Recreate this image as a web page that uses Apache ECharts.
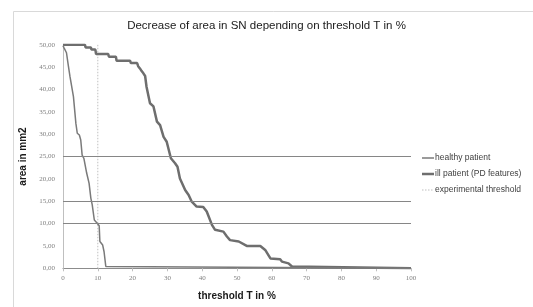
<!DOCTYPE html>
<html><head><meta charset="utf-8">
<script src="https://cdn.jsdelivr.net/npm/echarts@6/dist/echarts.min.js"></script>
<style>html,body{margin:0;padding:0;background:#fff}#c{width:533px;height:307px}</style>
</head><body><div id="c"></div>
<script>
var titleText = 'Decrease of area in SN depending on threshold T in %';
var xName = 'threshold T in %';
var yName = 'area in mm2';
var seriesNames = ['healthy patient', 'ill patient (PD features)', 'experimental threshold'];

var healthyT = [0, 0.3, 1.0, 1.5, 2.0, 3.0, 3.7, 4.1, 4.7, 5.1, 5.5, 6.0, 6.3, 6.8, 7.5, 8.0, 8.4, 9.0, 9.7, 10.4, 10.6, 11.4, 11.8, 12.3, 12.5, 100];
var healthyV = [49.8, 49.3, 48.2, 45.5, 42.9, 38.4, 32.4, 30.2, 29.8, 28.7, 25.3, 24.6, 24.2, 21.3, 19.0, 15.7, 14.2, 10.8, 10.2, 9.5, 6.0, 5.2, 3.7, 0.4, 0, 0];

var illT = [0, 6.3, 6.5, 8.0, 8.2, 9.3, 9.5, 13.0, 13.2, 15.2, 15.4, 19.3, 19.5, 21.3, 21.6, 22.1, 22.6, 23.1, 23.6, 24.0, 25.0, 26.0, 27.0, 27.9, 28.9, 29.8, 31.0, 32.2, 32.9, 33.6, 35.1, 36.1, 37.0, 38.4, 40.3, 41.3, 41.8, 42.8, 43.7, 46.1, 47.1, 48.0, 50.5, 50.9, 52.8, 56.7, 58.1, 59.6, 62.4, 62.9, 64.8, 65.8, 66.3, 100];
var illV = [50.0, 50.0, 49.4, 49.4, 48.9, 48.9, 47.9, 47.9, 47.3, 47.3, 46.4, 46.4, 45.9, 45.9, 45.2, 44.7, 44.1, 43.6, 43.0, 40.6, 36.9, 36.2, 32.8, 32.0, 29.4, 28.3, 24.6, 23.5, 22.7, 20.1, 17.5, 16.4, 14.9, 13.8, 13.7, 12.7, 12.3, 9.7, 8.6, 8.2, 7.1, 6.3, 6.0, 5.6, 5.0, 5.0, 4.1, 2.2, 2.0, 1.5, 1.1, 0.4, 0, 0];

var thresholdT = [10, 10];
var thresholdV = [0, 50];

var gridValues = [25, 15, 10];

var seriesColors = ['#7a7a7a', '#6e6e6e', '#bfbfbf'];
var seriesWidths = [1.5, 2.5, 1];
var seriesDash = ['solid', 'solid', [1.5, 1.5]];

function zip(a, b) { return a.map(function (v, i) { return [v, b[i]]; }); }

var legendGraphics = [];
seriesNames.forEach(function (n, i) {
  var y = 158 + i * 16;
  legendGraphics.push({
    type: 'line', silent: true,
    shape: { x1: 422, y1: y, x2: 434, y2: y },
    style: { stroke: seriesColors[i], lineWidth: seriesWidths[i], lineDash: seriesDash[i] === 'solid' ? null : seriesDash[i] }
  });
  legendGraphics.push({
    type: 'text', silent: true, x: 435, y: y,
    style: { text: n, fill: '#404040', font: '8.5px "Liberation Sans"', verticalAlign: 'middle', align: 'left' }
  });
});

var chart = echarts.init(document.getElementById('c'));
chart.setOption({
  animation: false,
  backgroundColor: '#fff',
  graphic: [{
    type: 'rect', silent: true, z: -10,
    shape: { x: 13.5, y: 11.5, width: 700, height: 500 },
    style: { fill: 'none', stroke: '#d9d9d9', lineWidth: 1 }
  }].concat(legendGraphics),
  title: {
    text: titleText, left: 'center', top: 20, padding: 0,
    textStyle: { fontFamily: 'Liberation Sans', fontSize: 11.5, fontWeight: 'normal', color: '#1a1a1a' }
  },
  grid: { left: 63, right: 122, top: 44.7, bottom: 38.7 },
  xAxis: {
    type: 'value', min: 0, max: 100, interval: 10,
    name: xName, nameLocation: 'middle', nameGap: 23,
    nameTextStyle: { fontFamily: 'Liberation Sans', fontSize: 10, fontWeight: 'bold', color: '#1a1a1a' },
    axisLine: { show: true, onZero: false, lineStyle: { color: '#8c8c8c', width: 1 } },
    axisTick: { show: true, length: 3, lineStyle: { color: '#bfbfbf' } },
    axisLabel: { margin: 6, fontFamily: 'Liberation Serif', fontSize: 7, color: '#808080' },
    splitLine: { show: false }
  },
  yAxis: {
    type: 'value', min: 0, max: 50, interval: 5,
    name: yName, nameLocation: 'middle', nameGap: 33,
    nameTextStyle: { fontFamily: 'Liberation Sans', fontSize: 10, fontWeight: 'bold', color: '#1a1a1a' },
    axisLine: { show: true, lineStyle: { color: '#bfbfbf', width: 1 } },
    axisTick: { show: false },
    axisLabel: { margin: 8, fontFamily: 'Liberation Serif', fontSize: 7, color: '#808080',
      formatter: function (v) { return v.toFixed(2).replace('.', ','); } },
    splitLine: { show: false }
  },
  series: [
    {
      name: seriesNames[0], type: 'line', data: zip(healthyT, healthyV),
      symbol: 'none', z: 4,
      lineStyle: { color: seriesColors[0], width: seriesWidths[0] }, itemStyle: { color: seriesColors[0] },
      markLine: {
        silent: true, symbol: 'none', label: { show: false },
        lineStyle: { color: '#868686', width: 1, type: 'solid' },
        data: gridValues.map(function (v) { return { yAxis: v }; })
      }
    },
    {
      name: seriesNames[1], type: 'line', data: zip(illT, illV),
      symbol: 'none', z: 3,
      lineStyle: { color: seriesColors[1], width: seriesWidths[1] }, itemStyle: { color: seriesColors[1] }
    },
    {
      name: seriesNames[2], type: 'line', data: zip(thresholdT, thresholdV),
      symbol: 'none', z: 2,
      lineStyle: { color: seriesColors[2], width: seriesWidths[2], type: seriesDash[2] }, itemStyle: { color: seriesColors[2] }
    }
  ]
});
</script></body></html>
